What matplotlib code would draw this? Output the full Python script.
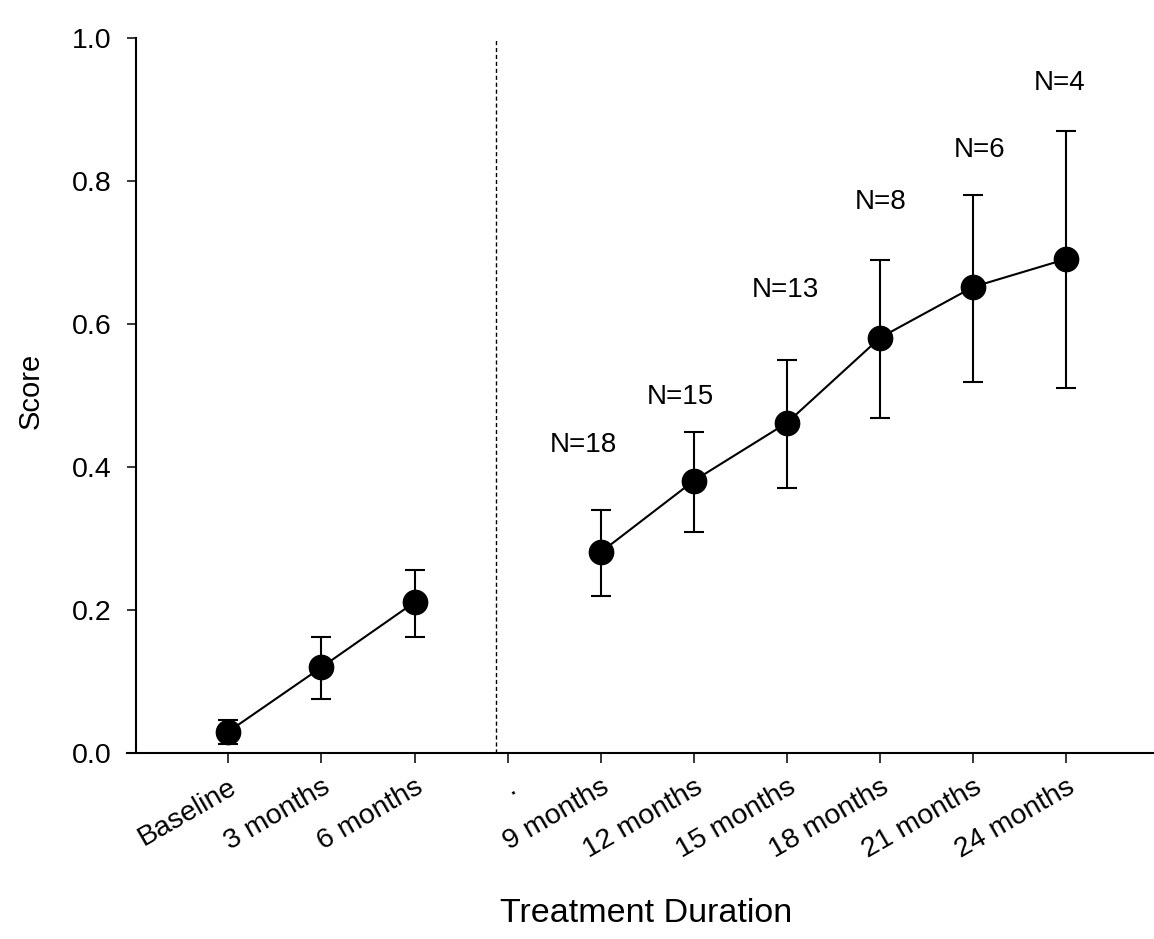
import numpy as np
import matplotlib
matplotlib.use('Agg')
import matplotlib.pyplot as plt

plt.rcParams['font.family'] = ['Liberation Sans', 'DejaVu Sans']

# Categorias do eixo x (o "." marca a separação entre fases)
categories = ['Baseline', '3 months', '6 months', '.', '9 months', '12 months',
              '15 months', '18 months', '21 months', '24 months']

# Médias e limites das barras de erro
means = [0.03, 0.12, 0.211, np.nan, 0.281, 0.381, 0.462, 0.581, 0.652, 0.691]
upper = [0.046, 0.162, 0.256, np.nan, 0.340, 0.449, 0.550, 0.690, 0.780, 0.870]
lower = [0.013, 0.075, 0.162, np.nan, 0.220, 0.309, 0.371, 0.469, 0.519, 0.510]

# Rótulos de N
n_labels = ['N=18', 'N=15', 'N=13', 'N=8', 'N=6', 'N=4']
n_label_x = [3.81, 4.85, 5.98, 7.0, 8.07, 8.93]
n_label_y = [0.431, 0.498, 0.648, 0.771, 0.843, 0.937]

divider_x = 2.87

x = np.arange(len(categories))
means = np.array(means)
yerr = np.array([means - np.array(lower), np.array(upper) - means])

fig = plt.figure(figsize=(11.54, 9.39), dpi=100)
ax = fig.add_axes([0.118, 0.198, 0.882, 0.7615])

ax.errorbar(x, means, yerr=yerr, fmt='none', ecolor='black', elinewidth=1.5,
            capsize=7, capthick=1.5, zorder=2)
ax.plot(x, means, color='black', linewidth=1.5, marker='o', markersize=17.5,
        markerfacecolor='black', markeredgecolor='black', zorder=3)

ax.axvline(divider_x, color='black', linewidth=1, linestyle=(0, (3, 2)), zorder=1)

for lab, lx, ly in zip(n_labels, n_label_x, n_label_y):
    ax.text(lx, ly, lab, ha='center', va='center', fontsize=20)

ax.set_xlim(-0.99, 9.94)
ax.set_ylim(0, 1.0)
ax.set_yticks([0.0, 0.2, 0.4, 0.6, 0.8, 1.0])
ax.set_yticklabels(['0.0', '0.2', '0.4', '0.6', '0.8', '1.0'])
ax.set_xticks(x)
ax.set_xticklabels(categories, rotation=30, ha='right', rotation_mode='anchor')

for side in ['top', 'right']:
    ax.spines[side].set_visible(False)
for side in ['left', 'bottom']:
    ax.spines[side].set_linewidth(1.5)
# eixo x começa um pouco antes do eixo y (estilo SigmaPlot)
ax.spines['bottom'].set_bounds(-1.09, 9.94)

ax.tick_params(axis='y', direction='out', length=6.5, width=1.1, pad=11, labelsize=20.5)
ax.tick_params(axis='x', direction='out', length=7, width=1.1, pad=8, labelsize=20.5)

ax.set_xlabel('Treatment Duration', fontsize=24.5, va='center')
ax.xaxis.set_label_coords(0.501, -0.224)
ax.set_ylabel('Score', fontsize=21, va='center', ha='center')
ax.yaxis.set_label_coords(-0.104, 0.506)

fig.savefig('out.png', dpi=100)
